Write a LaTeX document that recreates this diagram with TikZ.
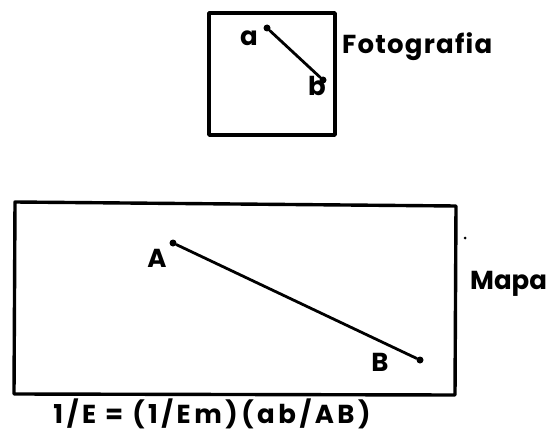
\documentclass[tikz,border=0pt]{standalone}
\usepackage{fontspec}
\setmainfont{Poppins}
\begin{document}
\begin{tikzpicture}[x=1pt,y=-1pt,
  frame/.style={draw,line width=3.4pt,line join=round},
  seg/.style={line width=2.8pt,line cap=round},
  enddot/.style={circle,fill,inner sep=0pt,minimum size=7pt},
  lbl/.style={font=\bfseries\fontsize{26}{28}\selectfont,inner sep=0pt}]
\useasboundingbox (0,0) rectangle (549,436);
% Photo
\draw[frame] (209,13) rectangle (335,135);
\node[enddot] (a) at (267,28) {};
\node[enddot] (b) at (323,80) {};
\draw[seg] (a) -- (b);
\node[lbl] (la) at (249,38) {a};
\node[lbl] (lb) at (317,86) {b};
\node[lbl,anchor=west] (foto) at (342,47) {\addfontfeatures{LetterSpace=4.7}Fotografia};
% Map
\draw[frame] (15,202) -- (456,206) -- (455,395) -- (14,394) -- cycle;
\node[circle,fill,inner sep=0pt,minimum size=3pt] (dot) at (465,238) {};
\node[enddot] (A) at (173,243) {};
\node[enddot] (B) at (420,360) {};
\draw[seg] (A) -- (B);
\node[lbl] (lA) at (157,258) {A};
\node[lbl] (lB) at (380,362) {B};
\node[lbl,anchor=west] (mapa) at (470,284) {Mapa};
\node[lbl] (eq) at (212,414) {\addfontfeatures{LetterSpace=13.5}1/E = (1/Em)(ab/AB)};
\end{tikzpicture}
\end{document}
